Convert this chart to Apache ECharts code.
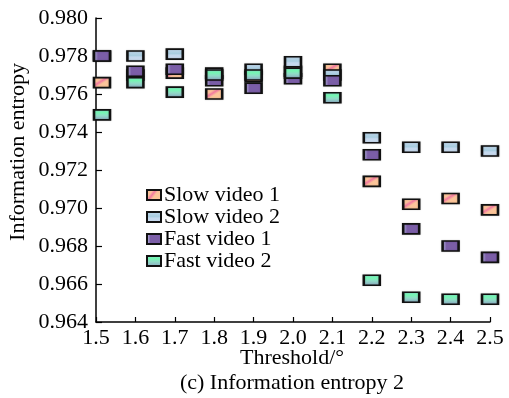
<!DOCTYPE html>
<html>
<head>
<meta charset="utf-8">
<script src="https://cdn.jsdelivr.net/npm/echarts@6/dist/echarts.min.js"></script>
<style>html,body{margin:0;padding:0;background:#fff;}#c{width:509px;height:398px;}</style>
</head>
<body>
<div id="c"></div>
<script>
const thresholds = [1.5, 1.6, 1.7, 1.8, 1.9, 2.0, 2.1, 2.2, 2.3, 2.4, 2.5];
const slow1 = [0.9766, 0.9770, 0.9771, 0.9760, 0.9769, 0.9772, 0.9773, 0.9714, 0.9702, 0.9705, 0.9699];
const slow2 = [0.9780, 0.9780, 0.9781, 0.9771, 0.9773, 0.9777, 0.9770, 0.9737, 0.9732, 0.9732, 0.9730];
const fast1 = [0.9780, 0.9772, 0.9773, 0.9767, 0.9763, 0.9768, 0.9767, 0.9728, 0.9689, 0.9680, 0.9674];
const fast2 = [0.9749, 0.9766, 0.9761, 0.9770, 0.9770, 0.9771, 0.9758, 0.9662, 0.9653, 0.9652, 0.9652];
const seriesNames = ['Slow video 1', 'Slow video 2', 'Fast video 1', 'Fast video 2'];
const xTicks = ['1.5','1.6','1.7','1.8','1.9','2.0','2.1','2.2','2.3','2.4','2.5'];

const G = echarts.graphic;
const fills = [
  new G.LinearGradient(0, 0, 1, 1, [
    {offset: 0, color: '#fcc69a'}, {offset: 0.3, color: '#fcc29a'},
    {offset: 0.42, color: '#f27aa0'}, {offset: 0.55, color: '#fbc49a'}, {offset: 1, color: '#fdc898'}]),
  new G.LinearGradient(0, 0, 0, 1, [
    {offset: 0, color: '#c6d9ee'}, {offset: 0.45, color: '#a8cde0'},
    {offset: 0.6, color: '#c4d8ee'}, {offset: 1, color: '#cadbee'}]),
  new G.LinearGradient(0, 0, 1, 0, [
    {offset: 0, color: '#7d66aa'}, {offset: 0.12, color: '#aaa4d6'},
    {offset: 0.28, color: '#7b5ea7'}, {offset: 1, color: '#7b5ea7'}]),
  new G.LinearGradient(0, 0, 0, 1, [
    {offset: 0, color: '#8ee3d2'}, {offset: 0.3, color: '#74f7b2'},
    {offset: 0.55, color: '#8fdcc6'}, {offset: 1, color: '#8ea4c4'}])
];
const datasets = [slow1, slow2, fast1, fast2];
const font = 'Liberation Serif';
const FS = 22;

const chart = echarts.init(document.getElementById('c'), null, {renderer: 'canvas'});
chart.setOption({
  animation: false,
  backgroundColor: '#ffffff',
  grid: {left: 96, right: 19, top: 18, bottom: 76},
  legend: {
    orient: 'vertical', left: 141, top: 179,
    itemWidth: 14, itemHeight: 10, itemGap: 0,
    icon: 'rect',
    textStyle: {fontFamily: font, fontSize: FS, color: '#000', padding: [0, 0, 0, -2]},
    data: seriesNames
  },
  xAxis: {
    type: 'value', min: 1.5, max: 2.5, interval: 0.1,
    axisLine: {show: true, lineStyle: {color: '#000', width: 1.5}},
    axisTick: {show: true, inside: true, length: 5, lineStyle: {color: '#000', width: 1.2}},
    axisLabel: {fontFamily: font, fontSize: FS, color: '#000', margin: 5,
      formatter: function (v) { const i = Math.round((v - 1.5) * 10); return xTicks[i] || ''; }},
    splitLine: {show: false}
  },
  yAxis: {
    type: 'value', min: 0.964, max: 0.980, interval: 0.002,
    axisLine: {show: true, lineStyle: {color: '#000', width: 1.5}},
    axisTick: {show: true, inside: true, length: 6, lineStyle: {color: '#000', width: 1.2}},
    axisLabel: {fontFamily: font, fontSize: FS, color: '#000', margin: 8,
      formatter: function (v) { return v.toFixed(3); }},
    splitLine: {show: false}
  },
  graphic: [{
    type: 'text', x: 292, y: 358,
    style: {text: 'Threshold/°', font: FS + 'px "Liberation Serif"', fill: '#000',
      textAlign: 'center', textVerticalAlign: 'middle'}
  }, {
    type: 'text', x: 292, y: 383,
    style: {text: '(c) Information entropy 2', font: FS + 'px "Liberation Serif"', fill: '#000',
      textAlign: 'center', textVerticalAlign: 'middle'}
  }, {
    type: 'text', x: 18, y: 152, rotation: Math.PI / 2,
    style: {text: 'Information entropy', font: FS + 'px "Liberation Serif"', fill: '#000',
      textAlign: 'center', textVerticalAlign: 'middle'}
  }],
  series: seriesNames.map(function (name, k) {
    return {
      name: name, type: 'scatter', symbol: 'rect', symbolSize: [16, 10],
      z: 2 + k,
      itemStyle: {color: fills[k], borderColor: '#111', borderWidth: 2, opacity: 1,
        shadowColor: 'rgba(0,0,0,0.25)', shadowBlur: 1.5},
      data: thresholds.map(function (t, i) {
        const item = {value: [t, datasets[k][i]]};
        if (i === 0) item.symbolOffset = [6, 0];
        return item;
      })
    };
  })
});
</script>
</body>
</html>
